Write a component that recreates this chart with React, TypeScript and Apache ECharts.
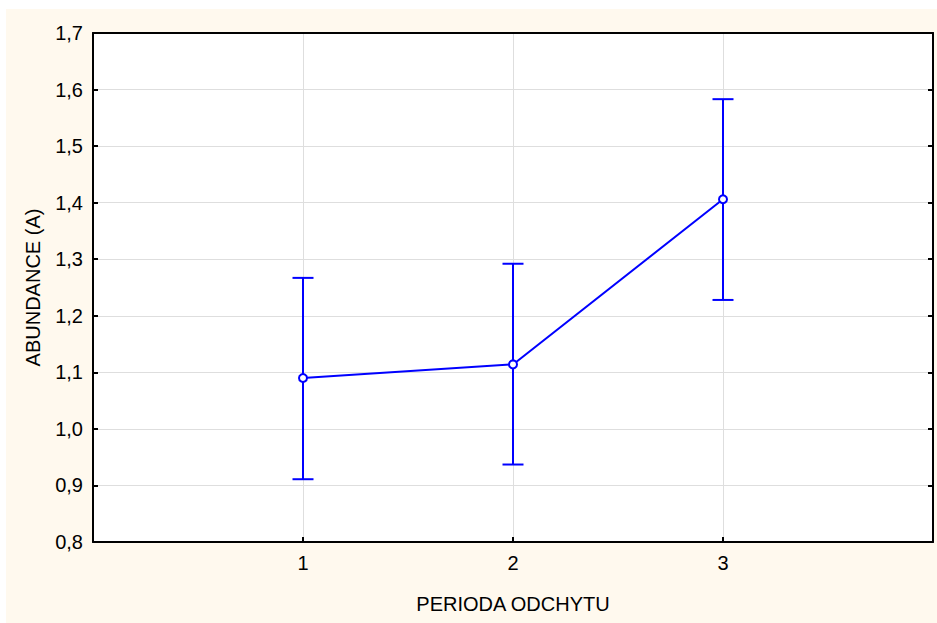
import React, { useEffect, useRef } from "react";
import * as echarts from "echarts";

const periods = [1, 2, 3];
const means = [1.09, 1.114, 1.406];
const lowerBounds = [0.911, 0.937, 1.228];
const upperBounds = [1.267, 1.292, 1.583];
const xTickLabels = ["1", "2", "3"];
const xTitle = "PERIODA ODCHYTU";
const yTitle = "ABUNDANCE (A)";

const FONT = "'Liberation Sans', Arial, sans-serif";
const BLUE = "#0000FF";

export default function App() {
  const ref = useRef<HTMLDivElement>(null);
  useEffect(() => {
    if (!ref.current) return;
    const chart = echarts.init(ref.current, undefined, { renderer: "svg" });
    const lineData = periods.map((p, i) => [p, means[i]]);
    const errData = periods.map((p, i) => [p, lowerBounds[i], upperBounds[i]]);
    const labelStyle = { color: "#000", fontFamily: FONT, fontSize: 20 };
    chart.setOption({
      animation: false,
      backgroundColor: "#ffffff",
      graphic: [
        {
          type: "rect",
          z: -10,
          silent: true,
          shape: { x: 6, y: 9, width: 931, height: 614 },
          style: { fill: "#FFF9EE" },
        },
      ],
      grid: {
        left: 93,
        top: 33,
        right: 4,
        bottom: 81,
        show: true,
        backgroundColor: "#ffffff",
        borderWidth: 0,
      },
      xAxis: [
        {
          type: "value",
          min: 0,
          max: 4,
          interval: 1,
          position: "bottom",
          name: xTitle,
          nameLocation: "middle",
          nameGap: 52,
          nameTextStyle: labelStyle,
          axisLine: { show: true, onZero: false, lineStyle: { color: "#000", width: 2 } },
          axisTick: { show: true, inside: true, length: 5, lineStyle: { color: "#000", width: 2 } },
          axisLabel: {
            ...labelStyle,
            margin: 11,
            formatter: (v: number) => {
              const idx = periods.indexOf(v);
              return idx >= 0 ? xTickLabels[idx] : "";
            },
          },
          splitLine: { show: true, lineStyle: { color: "#dedede", width: 1 } },
        },
        {
          type: "value",
          min: 0,
          max: 4,
          interval: 1,
          position: "top",
          axisLine: { show: true, onZero: false, lineStyle: { color: "#000", width: 2 } },
          axisTick: { show: false },
          axisLabel: { show: false },
          splitLine: { show: false },
        },
      ],
      yAxis: [
        {
          type: "value",
          min: 0.8,
          max: 1.7,
          interval: 0.1,
          position: "left",
          name: yTitle,
          nameLocation: "middle",
          nameGap: 50,
          nameRotate: 90,
          nameTextStyle: labelStyle,
          axisLine: { show: true, onZero: false, lineStyle: { color: "#000", width: 2 } },
          axisTick: { show: true, inside: true, length: 5, lineStyle: { color: "#000", width: 2 } },
          axisLabel: {
            ...labelStyle,
            margin: 10,
            formatter: (v: number) => v.toFixed(1).replace(".", ","),
          },
          splitLine: { show: true, lineStyle: { color: "#dedede", width: 1 } },
        },
        {
          type: "value",
          min: 0.8,
          max: 1.7,
          interval: 0.1,
          position: "right",
          axisLine: { show: true, onZero: false, lineStyle: { color: "#000", width: 2 } },
          axisTick: { show: true, inside: true, length: 5, lineStyle: { color: "#000", width: 2 } },
          axisLabel: { show: false },
          splitLine: { show: false },
        },
      ],
      series: [
        {
          type: "custom",
          xAxisIndex: 0,
          yAxisIndex: 0,
          data: errData,
          z: 3,
          renderItem: (params: any, api: any) => {
            const x = api.value(0);
            const lo = api.coord([x, api.value(1)]);
            const hi = api.coord([x, api.value(2)]);
            const hw = 10.5;
            const style = { stroke: BLUE, lineWidth: 2 };
            return {
              type: "group",
              children: [
                { type: "line", shape: { x1: lo[0], y1: lo[1], x2: hi[0], y2: hi[1] }, style },
                { type: "line", shape: { x1: hi[0] - hw, y1: hi[1], x2: hi[0] + hw, y2: hi[1] }, style },
                { type: "line", shape: { x1: lo[0] - hw, y1: lo[1], x2: lo[0] + hw, y2: lo[1] }, style },
              ],
            };
          },
        },
        {
          type: "line",
          xAxisIndex: 0,
          yAxisIndex: 0,
          data: lineData,
          z: 4,
          symbol: "emptyCircle",
          symbolSize: 8,
          showAllSymbol: true,
          lineStyle: { color: BLUE, width: 2 },
          itemStyle: { color: BLUE, borderColor: BLUE, borderWidth: 2 },
        },
      ],
    });
    return () => chart.dispose();
  }, []);
  return (
    <div
      ref={ref}
      style={{ position: "absolute", left: 0, top: 0, width: 937, height: 623 }}
    />
  );
}
